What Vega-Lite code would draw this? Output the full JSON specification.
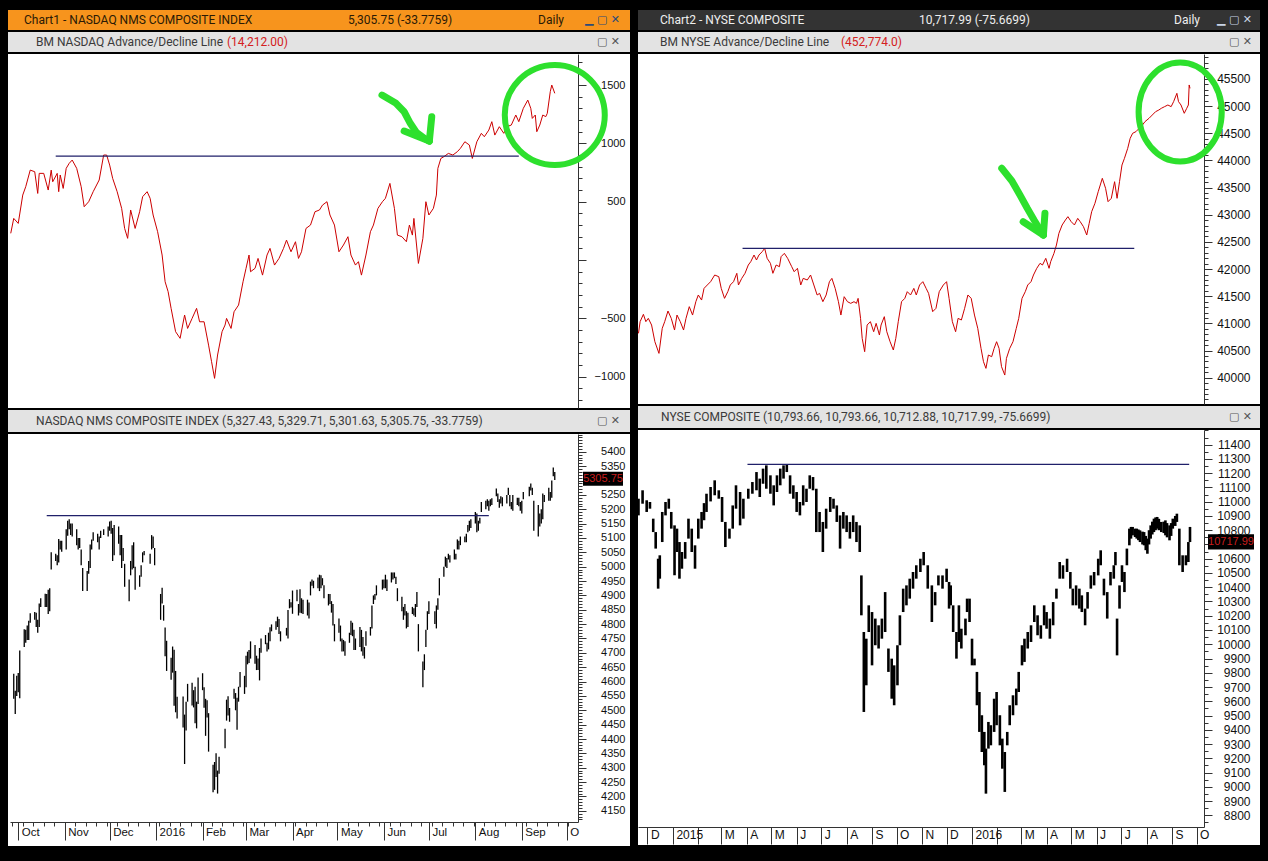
{
"$schema":"https://vega.github.io/schema/vega-lite/v6.json",
"background":"#000000",
"padding":{"left":8,"top":10,"right":10,"bottom":15},
"spacing":6,
"config":{"view":{"stroke":null},"axis":{"labelFont":"Liberation Sans","labelColor":"#111111","tickColor":"#333333","domainColor":"#333333","grid":false}},
"datasets":{
"ndxAD":[
{"d":"2015-09-26","v":229},{"d":"2015-09-28","v":357},{"d":"2015-10-01","v":314},{"d":"2015-10-04","v":557},{"d":"2015-10-06","v":629},{"d":"2015-10-09","v":771},{"d":"2015-10-12","v":757},{"d":"2015-10-14","v":571},{"d":"2015-10-15","v":743},{"d":"2015-10-18","v":743},{"d":"2015-10-21","v":600},{"d":"2015-10-23","v":771},{"d":"2015-10-24","v":671},{"d":"2015-10-27","v":743},{"d":"2015-10-28","v":586},{"d":"2015-10-29","v":729},{"d":"2015-10-31","v":614},{"d":"2015-11-02","v":786},{"d":"2015-11-04","v":829},{"d":"2015-11-06","v":857},{"d":"2015-11-09","v":786},{"d":"2015-11-12","v":629},{"d":"2015-11-14","v":457},{"d":"2015-11-17","v":500},{"d":"2015-11-20","v":586},{"d":"2015-11-24","v":686},{"d":"2015-11-27","v":900},{"d":"2015-11-29","v":900},{"d":"2015-12-01","v":814},{"d":"2015-12-03","v":700},{"d":"2015-12-06","v":586},{"d":"2015-12-09","v":443},{"d":"2015-12-11","v":271},{"d":"2015-12-13","v":186},{"d":"2015-12-15","v":429},{"d":"2015-12-18","v":271},{"d":"2015-12-21","v":414},{"d":"2015-12-23","v":543},{"d":"2015-12-26","v":586},{"d":"2015-12-28","v":529},{"d":"2015-12-30","v":386},{"d":"2016-01-02","v":243},{"d":"2016-01-05","v":43},{"d":"2016-01-07","v":-186},{"d":"2016-01-09","v":-271},{"d":"2016-01-11","v":-414},{"d":"2016-01-14","v":-614},{"d":"2016-01-17","v":-671},{"d":"2016-01-20","v":-471},{"d":"2016-01-22","v":-586},{"d":"2016-01-25","v":-500},{"d":"2016-01-28","v":-414},{"d":"2016-01-30","v":-529},{"d":"2016-02-02","v":-529},{"d":"2016-02-05","v":-729},{"d":"2016-02-07","v":-871},{"d":"2016-02-09","v":-1014},{"d":"2016-02-11","v":-814},{"d":"2016-02-14","v":-614},{"d":"2016-02-16","v":-557},{"d":"2016-02-17","v":-500},{"d":"2016-02-20","v":-586},{"d":"2016-02-22","v":-443},{"d":"2016-02-25","v":-386},{"d":"2016-02-28","v":-186},{"d":"2016-03-01","v":-71},{"d":"2016-03-03","v":43},{"d":"2016-03-04","v":-100},{"d":"2016-03-07","v":-71},{"d":"2016-03-09","v":14},{"d":"2016-03-12","v":-129},{"d":"2016-03-15","v":43},{"d":"2016-03-17","v":100},{"d":"2016-03-20","v":-43},{"d":"2016-03-23","v":14},{"d":"2016-03-26","v":100},{"d":"2016-03-28","v":171},{"d":"2016-03-31","v":71},{"d":"2016-04-03","v":157},{"d":"2016-04-05","v":14},{"d":"2016-04-07","v":71},{"d":"2016-04-10","v":271},{"d":"2016-04-13","v":300},{"d":"2016-04-16","v":414},{"d":"2016-04-19","v":429},{"d":"2016-04-21","v":471},{"d":"2016-04-24","v":500},{"d":"2016-04-26","v":386},{"d":"2016-04-29","v":300},{"d":"2016-05-02","v":71},{"d":"2016-05-05","v":129},{"d":"2016-05-08","v":200},{"d":"2016-05-10","v":43},{"d":"2016-05-13","v":-43},{"d":"2016-05-15","v":-14},{"d":"2016-05-17","v":-129},{"d":"2016-05-20","v":43},{"d":"2016-05-23","v":243},{"d":"2016-05-25","v":300},{"d":"2016-05-28","v":443},{"d":"2016-05-31","v":500},{"d":"2016-06-02","v":529},{"d":"2016-06-05","v":657},{"d":"2016-06-08","v":443},{"d":"2016-06-10","v":214},{"d":"2016-06-13","v":200},{"d":"2016-06-16","v":157},{"d":"2016-06-18","v":300},{"d":"2016-06-20","v":214},{"d":"2016-06-21","v":357},{"d":"2016-06-24","v":-29},{"d":"2016-06-27","v":186},{"d":"2016-06-29","v":500},{"d":"2016-07-01","v":386},{"d":"2016-07-04","v":443},{"d":"2016-07-06","v":557},{"d":"2016-07-07","v":786},{"d":"2016-07-09","v":871},{"d":"2016-07-11","v":886},{"d":"2016-07-14","v":914},{"d":"2016-07-17","v":900},{"d":"2016-07-20","v":929},{"d":"2016-07-22","v":957},{"d":"2016-07-25","v":1014},{"d":"2016-07-28","v":986},{"d":"2016-07-30","v":871},{"d":"2016-08-02","v":1014},{"d":"2016-08-05","v":1086},{"d":"2016-08-07","v":1057},{"d":"2016-08-10","v":1114},{"d":"2016-08-12","v":1186},{"d":"2016-08-14","v":1071},{"d":"2016-08-17","v":1143},{"d":"2016-08-20","v":1086},{"d":"2016-08-22","v":1143},{"d":"2016-08-25","v":1157},{"d":"2016-08-28","v":1243},{"d":"2016-08-30","v":1186},{"d":"2016-09-02","v":1300},{"d":"2016-09-05","v":1371},{"d":"2016-09-07","v":1300},{"d":"2016-09-08","v":1214},{"d":"2016-09-10","v":1243},{"d":"2016-09-11","v":1100},{"d":"2016-09-13","v":1157},{"d":"2016-09-15","v":1243},{"d":"2016-09-17","v":1229},{"d":"2016-09-18","v":1257},{"d":"2016-09-20","v":1443},{"d":"2016-09-21","v":1500},{"d":"2016-09-23","v":1429}
],
"ndxBars":[
{"d":"2015-09-28","v":4627,"v2":4540},{"d":"2015-09-29","v":4568,"v2":4487},{"d":"2015-09-30","v":4620,"v2":4550},{"d":"2015-10-01","v":4630,"v2":4563},{"d":"2015-10-02","v":4708,"v2":4542},{"d":"2015-10-05","v":4782,"v2":4720},{"d":"2015-10-06","v":4780,"v2":4735},{"d":"2015-10-07","v":4795,"v2":4745},{"d":"2015-10-08","v":4812,"v2":4745},{"d":"2015-10-09","v":4838,"v2":4805},{"d":"2015-10-12","v":4842,"v2":4815},{"d":"2015-10-13","v":4840,"v2":4790},{"d":"2015-10-14","v":4815,"v2":4770},{"d":"2015-10-15","v":4872,"v2":4790},{"d":"2015-10-16","v":4890,"v2":4860},{"d":"2015-10-19","v":4906,"v2":4860},{"d":"2015-10-20","v":4905,"v2":4860},{"d":"2015-10-21","v":4920,"v2":4835},{"d":"2015-10-22","v":4925,"v2":4845},{"d":"2015-10-23","v":5050,"v2":4990},{"d":"2015-10-26","v":5045,"v2":5020},{"d":"2015-10-27","v":5040,"v2":5005},{"d":"2015-10-28","v":5096,"v2":5015},{"d":"2015-10-29","v":5090,"v2":5060},{"d":"2015-10-30","v":5090,"v2":5052},
{"d":"2015-11-02","v":5130,"v2":5060},{"d":"2015-11-03","v":5160,"v2":5108},{"d":"2015-11-04","v":5165,"v2":5130},{"d":"2015-11-05","v":5150,"v2":5110},{"d":"2015-11-06","v":5150,"v2":5105},{"d":"2015-11-09","v":5130,"v2":5075},{"d":"2015-11-10","v":5100,"v2":5060},{"d":"2015-11-11","v":5100,"v2":5065},{"d":"2015-11-12","v":5060,"v2":5005},{"d":"2015-11-13","v":4995,"v2":4915},{"d":"2015-11-16","v":4985,"v2":4915},{"d":"2015-11-17","v":5020,"v2":4975},{"d":"2015-11-18","v":5077,"v2":4995},{"d":"2015-11-19","v":5095,"v2":5060},{"d":"2015-11-20","v":5120,"v2":5090},{"d":"2015-11-23","v":5115,"v2":5085},{"d":"2015-11-24","v":5105,"v2":5060},{"d":"2015-11-25","v":5125,"v2":5100},{"d":"2015-11-27","v":5130,"v2":5110},{"d":"2015-11-30","v":5140,"v2":5105},
{"d":"2015-12-01","v":5157,"v2":5125},{"d":"2015-12-02","v":5160,"v2":5115},{"d":"2015-12-03","v":5135,"v2":5020},{"d":"2015-12-04","v":5145,"v2":5040},{"d":"2015-12-07","v":5140,"v2":5080},{"d":"2015-12-08","v":5110,"v2":5040},{"d":"2015-12-09","v":5110,"v2":4995},{"d":"2015-12-10","v":5065,"v2":5020},{"d":"2015-12-11","v":5010,"v2":4930},{"d":"2015-12-14","v":4955,"v2":4880},{"d":"2015-12-15","v":5020,"v2":4970},{"d":"2015-12-16","v":5075,"v2":4990},{"d":"2015-12-17","v":5085,"v2":4995},{"d":"2015-12-18","v":5000,"v2":4920},{"d":"2015-12-21","v":4970,"v2":4930},{"d":"2015-12-22","v":5005,"v2":4965},{"d":"2015-12-23","v":5050,"v2":5015},{"d":"2015-12-24","v":5055,"v2":5040},{"d":"2015-12-28","v":5045,"v2":5010},{"d":"2015-12-29","v":5110,"v2":5060},{"d":"2015-12-30","v":5105,"v2":5065},{"d":"2015-12-31","v":5065,"v2":5005},
{"d":"2016-01-04","v":4905,"v2":4815},{"d":"2016-01-05","v":4927,"v2":4872},{"d":"2016-01-06","v":4866,"v2":4812},{"d":"2016-01-07","v":4788,"v2":4688},{"d":"2016-01-08","v":4742,"v2":4637},{"d":"2016-01-11","v":4683,"v2":4606},{"d":"2016-01-12","v":4722,"v2":4631},{"d":"2016-01-13","v":4711,"v2":4516},{"d":"2016-01-14","v":4637,"v2":4493},{"d":"2016-01-15","v":4547,"v2":4471},{"d":"2016-01-19","v":4548,"v2":4440},{"d":"2016-01-20","v":4485,"v2":4313},{"d":"2016-01-21","v":4530,"v2":4430},{"d":"2016-01-22","v":4592,"v2":4530},{"d":"2016-01-25","v":4596,"v2":4517},{"d":"2016-01-26","v":4570,"v2":4510},{"d":"2016-01-27","v":4582,"v2":4455},{"d":"2016-01-28","v":4530,"v2":4437},{"d":"2016-01-29","v":4614,"v2":4522},
{"d":"2016-02-01","v":4629,"v2":4570},{"d":"2016-02-02","v":4580,"v2":4509},{"d":"2016-02-03","v":4540,"v2":4411},{"d":"2016-02-04","v":4535,"v2":4475},{"d":"2016-02-05","v":4490,"v2":4356},{"d":"2016-02-08","v":4310,"v2":4215},{"d":"2016-02-09","v":4320,"v2":4223},{"d":"2016-02-10","v":4350,"v2":4268},{"d":"2016-02-11","v":4290,"v2":4210},{"d":"2016-02-12","v":4338,"v2":4279},{"d":"2016-02-16","v":4436,"v2":4368},{"d":"2016-02-17","v":4537,"v2":4464},{"d":"2016-02-18","v":4549,"v2":4482},{"d":"2016-02-19","v":4508,"v2":4460},{"d":"2016-02-22","v":4575,"v2":4540},{"d":"2016-02-23","v":4560,"v2":4500},{"d":"2016-02-24","v":4544,"v2":4432},{"d":"2016-02-25","v":4582,"v2":4530},{"d":"2016-02-26","v":4633,"v2":4580},{"d":"2016-02-29","v":4620,"v2":4557},
{"d":"2016-03-01","v":4690,"v2":4580},{"d":"2016-03-02","v":4704,"v2":4660},{"d":"2016-03-03","v":4710,"v2":4665},{"d":"2016-03-04","v":4740,"v2":4680},{"d":"2016-03-07","v":4727,"v2":4662},{"d":"2016-03-08","v":4690,"v2":4640},{"d":"2016-03-09","v":4680,"v2":4640},{"d":"2016-03-10","v":4717,"v2":4604},{"d":"2016-03-11","v":4750,"v2":4700},{"d":"2016-03-14","v":4762,"v2":4730},{"d":"2016-03-15","v":4735,"v2":4705},{"d":"2016-03-16","v":4770,"v2":4712},{"d":"2016-03-17","v":4789,"v2":4740},{"d":"2016-03-18","v":4799,"v2":4775},{"d":"2016-03-21","v":4810,"v2":4780},{"d":"2016-03-22","v":4826,"v2":4790},{"d":"2016-03-23","v":4818,"v2":4766},{"d":"2016-03-24","v":4775,"v2":4740},{"d":"2016-03-28","v":4787,"v2":4760},{"d":"2016-03-29","v":4849,"v2":4750},{"d":"2016-03-30","v":4887,"v2":4855},{"d":"2016-03-31","v":4876,"v2":4858},
{"d":"2016-04-01","v":4917,"v2":4836},{"d":"2016-04-04","v":4920,"v2":4880},{"d":"2016-04-05","v":4870,"v2":4830},{"d":"2016-04-06","v":4921,"v2":4840},{"d":"2016-04-07","v":4890,"v2":4838},{"d":"2016-04-08","v":4885,"v2":4835},{"d":"2016-04-11","v":4885,"v2":4830},{"d":"2016-04-12","v":4875,"v2":4820},{"d":"2016-04-13","v":4948,"v2":4900},{"d":"2016-04-14","v":4955,"v2":4934},{"d":"2016-04-15","v":4951,"v2":4925},{"d":"2016-04-18","v":4962,"v2":4925},{"d":"2016-04-19","v":4972,"v2":4915},{"d":"2016-04-20","v":4970,"v2":4925},{"d":"2016-04-21","v":4960,"v2":4935},{"d":"2016-04-22","v":4935,"v2":4890},{"d":"2016-04-25","v":4905,"v2":4865},{"d":"2016-04-26","v":4905,"v2":4870},{"d":"2016-04-27","v":4880,"v2":4840},{"d":"2016-04-28","v":4870,"v2":4795},{"d":"2016-04-29","v":4800,"v2":4740},
{"d":"2016-05-02","v":4820,"v2":4770},{"d":"2016-05-03","v":4795,"v2":4740},{"d":"2016-05-04","v":4750,"v2":4705},{"d":"2016-05-05","v":4745,"v2":4705},{"d":"2016-05-06","v":4740,"v2":4690},{"d":"2016-05-09","v":4770,"v2":4735},{"d":"2016-05-10","v":4812,"v2":4762},{"d":"2016-05-11","v":4805,"v2":4758},{"d":"2016-05-12","v":4780,"v2":4710},{"d":"2016-05-13","v":4750,"v2":4710},{"d":"2016-05-16","v":4790,"v2":4720},{"d":"2016-05-17","v":4780,"v2":4705},{"d":"2016-05-18","v":4755,"v2":4690},{"d":"2016-05-19","v":4720,"v2":4680},{"d":"2016-05-20","v":4775,"v2":4725},{"d":"2016-05-23","v":4790,"v2":4760},{"d":"2016-05-24","v":4865,"v2":4785},{"d":"2016-05-25","v":4900,"v2":4870},{"d":"2016-05-26","v":4905,"v2":4885},{"d":"2016-05-27","v":4935,"v2":4900},{"d":"2016-05-31","v":4955,"v2":4920},
{"d":"2016-06-01","v":4955,"v2":4925},{"d":"2016-06-02","v":4972,"v2":4925},{"d":"2016-06-03","v":4955,"v2":4915},{"d":"2016-06-06","v":4980,"v2":4945},{"d":"2016-06-07","v":4980,"v2":4955},{"d":"2016-06-08","v":4980,"v2":4960},{"d":"2016-06-09","v":4965,"v2":4940},{"d":"2016-06-10","v":4925,"v2":4880},{"d":"2016-06-13","v":4895,"v2":4845},{"d":"2016-06-14","v":4860,"v2":4815},{"d":"2016-06-15","v":4870,"v2":4830},{"d":"2016-06-16","v":4845,"v2":4785},{"d":"2016-06-17","v":4840,"v2":4790},{"d":"2016-06-20","v":4860,"v2":4835},{"d":"2016-06-21","v":4855,"v2":4830},{"d":"2016-06-22","v":4870,"v2":4825},{"d":"2016-06-23","v":4912,"v2":4860},{"d":"2016-06-24","v":4800,"v2":4705},{"d":"2016-06-27","v":4670,"v2":4580},{"d":"2016-06-28","v":4695,"v2":4640},{"d":"2016-06-29","v":4780,"v2":4720},{"d":"2016-06-30","v":4845,"v2":4780},
{"d":"2016-07-01","v":4880,"v2":4835},{"d":"2016-07-05","v":4845,"v2":4800},{"d":"2016-07-06","v":4865,"v2":4785},{"d":"2016-07-07","v":4890,"v2":4850},{"d":"2016-07-08","v":4960,"v2":4900},{"d":"2016-07-11","v":5000,"v2":4965},{"d":"2016-07-12","v":5035,"v2":5000},{"d":"2016-07-13","v":5030,"v2":4995},{"d":"2016-07-14","v":5045,"v2":5025},{"d":"2016-07-15","v":5040,"v2":5015},{"d":"2016-07-18","v":5060,"v2":5025},{"d":"2016-07-19","v":5045,"v2":5025},{"d":"2016-07-20","v":5095,"v2":5060},{"d":"2016-07-21","v":5090,"v2":5060},{"d":"2016-07-22","v":5105,"v2":5075},{"d":"2016-07-25","v":5105,"v2":5085},{"d":"2016-07-26","v":5115,"v2":5085},{"d":"2016-07-27","v":5145,"v2":5120},{"d":"2016-07-28","v":5160,"v2":5125},{"d":"2016-07-29","v":5165,"v2":5135},
{"d":"2016-08-01","v":5190,"v2":5150},{"d":"2016-08-02","v":5185,"v2":5120},{"d":"2016-08-03","v":5160,"v2":5125},{"d":"2016-08-04","v":5170,"v2":5150},{"d":"2016-08-05","v":5225,"v2":5190},{"d":"2016-08-08","v":5230,"v2":5200},{"d":"2016-08-09","v":5235,"v2":5210},{"d":"2016-08-10","v":5230,"v2":5195},{"d":"2016-08-11","v":5235,"v2":5210},{"d":"2016-08-12","v":5238,"v2":5215},{"d":"2016-08-15","v":5272,"v2":5245},{"d":"2016-08-16","v":5255,"v2":5225},{"d":"2016-08-17","v":5235,"v2":5205},{"d":"2016-08-18","v":5245,"v2":5220},{"d":"2016-08-19","v":5242,"v2":5210},{"d":"2016-08-22","v":5250,"v2":5220},{"d":"2016-08-23","v":5275,"v2":5250},{"d":"2016-08-24","v":5250,"v2":5210},{"d":"2016-08-25","v":5225,"v2":5200},{"d":"2016-08-26","v":5250,"v2":5195},{"d":"2016-08-29","v":5240,"v2":5215},{"d":"2016-08-30","v":5240,"v2":5210},{"d":"2016-08-31","v":5225,"v2":5195},
{"d":"2016-09-01","v":5230,"v2":5185},{"d":"2016-09-02","v":5260,"v2":5235},{"d":"2016-09-06","v":5278,"v2":5245},{"d":"2016-09-07","v":5290,"v2":5265},{"d":"2016-09-08","v":5275,"v2":5250},{"d":"2016-09-09","v":5230,"v2":5125},{"d":"2016-09-12","v":5215,"v2":5105},{"d":"2016-09-13","v":5185,"v2":5140},{"d":"2016-09-14","v":5200,"v2":5150},{"d":"2016-09-15","v":5255,"v2":5165},{"d":"2016-09-16","v":5250,"v2":5225},{"d":"2016-09-19","v":5275,"v2":5230},{"d":"2016-09-20","v":5260,"v2":5230},{"d":"2016-09-21","v":5300,"v2":5240},{"d":"2016-09-22","v":5345,"v2":5315},{"d":"2016-09-23","v":5330,"v2":5302}
],
"nyaAD":[
{"d":"2014-11-20","v":40817},{"d":"2014-11-22","v":41032},{"d":"2014-11-26","v":41167},{"d":"2014-11-29","v":41032},{"d":"2014-12-02","v":41093},{"d":"2014-12-06","v":40970},{"d":"2014-12-10","v":40663},{"d":"2014-12-15","v":40448},{"d":"2014-12-19","v":40909},{"d":"2014-12-22","v":41032},{"d":"2014-12-26","v":41228},{"d":"2014-12-30","v":41093},{"d":"2015-01-03","v":40878},{"d":"2015-01-06","v":41154},{"d":"2015-01-10","v":41032},{"d":"2015-01-14","v":40878},{"d":"2015-01-17","v":41093},{"d":"2015-01-21","v":41308},{"d":"2015-01-25","v":41154},{"d":"2015-01-29","v":41400},{"d":"2015-02-01","v":41523},{"d":"2015-02-05","v":41430},{"d":"2015-02-08","v":41645},{"d":"2015-02-12","v":41707},{"d":"2015-02-16","v":41768},{"d":"2015-02-21","v":41891},{"d":"2015-02-26","v":41860},{"d":"2015-03-01","v":41645},{"d":"2015-03-05","v":41461},{"d":"2015-03-09","v":41584},{"d":"2015-03-12","v":41707},{"d":"2015-03-16","v":41768},{"d":"2015-03-20","v":41922},{"d":"2015-03-22","v":41707},{"d":"2015-03-26","v":41829},{"d":"2015-03-30","v":41922},{"d":"2015-04-03","v":42075},{"d":"2015-04-06","v":42136},{"d":"2015-04-10","v":42259},{"d":"2015-04-13","v":42167},{"d":"2015-04-16","v":42259},{"d":"2015-04-20","v":42321},{"d":"2015-04-23","v":42382},{"d":"2015-04-26","v":42198},{"d":"2015-04-30","v":42106},{"d":"2015-05-03","v":41922},{"d":"2015-05-07","v":42075},{"d":"2015-05-11","v":42044},{"d":"2015-05-13","v":42228},{"d":"2015-05-17","v":42290},{"d":"2015-05-21","v":42198},{"d":"2015-05-26","v":42044},{"d":"2015-05-29","v":41952},{"d":"2015-06-02","v":42014},{"d":"2015-06-06","v":41707},{"d":"2015-06-09","v":41829},{"d":"2015-06-14","v":41799},{"d":"2015-06-18","v":41891},{"d":"2015-06-22","v":41707},{"d":"2015-06-26","v":41523},{"d":"2015-06-29","v":41553},{"d":"2015-07-03","v":41400},{"d":"2015-07-07","v":41523},{"d":"2015-07-11","v":41768},{"d":"2015-07-14","v":41829},{"d":"2015-07-18","v":41645},{"d":"2015-07-22","v":41400},{"d":"2015-07-25","v":41154},{"d":"2015-07-29","v":41492},{"d":"2015-08-02","v":41400},{"d":"2015-08-06","v":41369},{"d":"2015-08-10","v":41400},{"d":"2015-08-13","v":41369},{"d":"2015-08-15","v":41461},{"d":"2015-08-18","v":41093},{"d":"2015-08-20","v":40725},{"d":"2015-08-23","v":40479},{"d":"2015-08-26","v":40970},{"d":"2015-08-30","v":41032},{"d":"2015-09-03","v":40847},{"d":"2015-09-06","v":41001},{"d":"2015-09-10","v":40786},{"d":"2015-09-12","v":40970},{"d":"2015-09-16","v":41124},{"d":"2015-09-19","v":40847},{"d":"2015-09-23","v":40663},{"d":"2015-09-27","v":40510},{"d":"2015-09-30","v":40725},{"d":"2015-10-03","v":41032},{"d":"2015-10-07","v":41400},{"d":"2015-10-11","v":41461},{"d":"2015-10-14","v":41584},{"d":"2015-10-18","v":41523},{"d":"2015-10-22","v":41645},{"d":"2015-10-25","v":41523},{"d":"2015-10-29","v":41707},{"d":"2015-11-02","v":41768},{"d":"2015-11-06","v":41645},{"d":"2015-11-09","v":41553},{"d":"2015-11-14","v":41216},{"d":"2015-11-18","v":41277},{"d":"2015-11-22","v":41584},{"d":"2015-11-27","v":41707},{"d":"2015-12-01","v":41768},{"d":"2015-12-04","v":41461},{"d":"2015-12-08","v":41032},{"d":"2015-12-12","v":40847},{"d":"2015-12-15","v":41093},{"d":"2015-12-19","v":41062},{"d":"2015-12-23","v":41277},{"d":"2015-12-27","v":41523},{"d":"2015-12-31","v":41461},{"d":"2016-01-04","v":41154},{"d":"2016-01-08","v":40909},{"d":"2016-01-12","v":40540},{"d":"2016-01-15","v":40295},{"d":"2016-01-18","v":40172},{"d":"2016-01-21","v":40418},{"d":"2016-01-25","v":40387},{"d":"2016-01-28","v":40540},{"d":"2016-01-31","v":40663},{"d":"2016-02-03","v":40540},{"d":"2016-02-06","v":40203},{"d":"2016-02-10","v":40049},{"d":"2016-02-12","v":40356},{"d":"2016-02-16","v":40540},{"d":"2016-02-20","v":40663},{"d":"2016-02-24","v":40909},{"d":"2016-02-27","v":41093},{"d":"2016-03-02","v":41461},{"d":"2016-03-06","v":41584},{"d":"2016-03-09","v":41707},{"d":"2016-03-13","v":41768},{"d":"2016-03-16","v":41891},{"d":"2016-03-20","v":42014},{"d":"2016-03-24","v":42106},{"d":"2016-03-27","v":42075},{"d":"2016-03-31","v":42198},{"d":"2016-04-04","v":42014},{"d":"2016-04-06","v":42136},{"d":"2016-04-10","v":42290},{"d":"2016-04-13","v":42443},{"d":"2016-04-16","v":42658},{"d":"2016-04-20","v":42812},{"d":"2016-04-24","v":42904},{"d":"2016-04-27","v":42965},{"d":"2016-05-01","v":42873},{"d":"2016-05-05","v":42812},{"d":"2016-05-09","v":42934},{"d":"2016-05-12","v":42873},{"d":"2016-05-16","v":42781},{"d":"2016-05-20","v":42627},{"d":"2016-05-23","v":42842},{"d":"2016-05-26","v":43057},{"d":"2016-05-30","v":43211},{"d":"2016-06-03","v":43425},{"d":"2016-06-08","v":43671},{"d":"2016-06-12","v":43487},{"d":"2016-06-15","v":43241},{"d":"2016-06-19","v":43303},{"d":"2016-06-23","v":43609},{"d":"2016-06-26","v":43303},{"d":"2016-06-29","v":43609},{"d":"2016-07-02","v":43916},{"d":"2016-07-05","v":44039},{"d":"2016-07-09","v":44223},{"d":"2016-07-12","v":44407},{"d":"2016-07-15","v":44500},{"d":"2016-07-19","v":44530},{"d":"2016-07-23","v":44592},{"d":"2016-07-27","v":44653},{"d":"2016-07-30","v":44714},{"d":"2016-08-04","v":44776},{"d":"2016-08-08","v":44837},{"d":"2016-08-12","v":44898},{"d":"2016-08-16","v":44929},{"d":"2016-08-19","v":44960},{"d":"2016-08-23","v":44991},{"d":"2016-08-27","v":45021},{"d":"2016-08-31","v":44991},{"d":"2016-09-03","v":45083},{"d":"2016-09-07","v":45236},{"d":"2016-09-09","v":45083},{"d":"2016-09-12","v":45021},{"d":"2016-09-16","v":44868},{"d":"2016-09-19","v":44960},{"d":"2016-09-21","v":45021},{"d":"2016-09-22","v":45390},{"d":"2016-09-23","v":45328}
],
"nyaBars":[
{"d":"2014-11-20","v":11021,"v2":10904},{"d":"2014-11-25","v":11080,"v2":10986},{"d":"2014-11-30","v":11010,"v2":10928},{"d":"2014-12-04","v":10998,"v2":10951},{"d":"2014-12-08","v":10881,"v2":10787},{"d":"2014-12-11","v":10787,"v2":10671},{"d":"2014-12-14","v":10600,"v2":10390},{"d":"2014-12-16","v":10624,"v2":10460},{"d":"2014-12-19","v":10928,"v2":10717},{"d":"2014-12-23","v":10998,"v2":10904},{"d":"2014-12-27","v":11021,"v2":10951},{"d":"2014-12-30","v":10928,"v2":10811},{"d":"2015-01-03","v":10834,"v2":10484},{"d":"2015-01-06","v":10811,"v2":10647},{"d":"2015-01-09","v":10717,"v2":10460},{"d":"2015-01-12","v":10647,"v2":10530},{"d":"2015-01-16","v":10717,"v2":10600},{"d":"2015-01-20","v":10881,"v2":10741},{"d":"2015-01-24","v":10811,"v2":10647},{"d":"2015-01-28","v":10694,"v2":10530},{"d":"2015-02-01","v":10881,"v2":10741},{"d":"2015-02-05","v":10928,"v2":10811},{"d":"2015-02-08","v":10990,"v2":10870},{"d":"2015-02-11","v":11056,"v2":10928},{"d":"2015-02-16","v":11103,"v2":11002},{"d":"2015-02-21","v":11150,"v2":11045},{"d":"2015-02-26","v":11080,"v2":11021},{"d":"2015-03-02","v":11033,"v2":10858},{"d":"2015-03-06","v":10858,"v2":10682},{"d":"2015-03-11","v":10811,"v2":10741},{"d":"2015-03-15","v":10974,"v2":10811},{"d":"2015-03-19","v":11115,"v2":10951},{"d":"2015-03-24","v":11068,"v2":10834},{"d":"2015-03-28","v":11021,"v2":10881},{"d":"2015-04-03","v":11091,"v2":11021},{"d":"2015-04-08","v":11138,"v2":11056},{"d":"2015-04-13","v":11208,"v2":11080},{"d":"2015-04-17","v":11162,"v2":11033},{"d":"2015-04-21","v":11232,"v2":11126},{"d":"2015-04-25","v":11255,"v2":11091},{"d":"2015-04-30","v":11185,"v2":11056},{"d":"2015-05-04","v":11115,"v2":10974},{"d":"2015-05-08","v":11185,"v2":11068},{"d":"2015-05-12","v":11232,"v2":11115},{"d":"2015-05-16","v":11255,"v2":11162},{"d":"2015-05-20","v":11260,"v2":11208},{"d":"2015-05-24","v":11185,"v2":11056},{"d":"2015-05-28","v":11115,"v2":11021},{"d":"2015-06-01","v":11068,"v2":10928},{"d":"2015-06-05","v":10998,"v2":10904},{"d":"2015-06-09","v":11115,"v2":10974},{"d":"2015-06-13","v":11091,"v2":10998},{"d":"2015-06-17","v":11185,"v2":11091},{"d":"2015-06-21","v":11173,"v2":11080},{"d":"2015-06-25","v":11091,"v2":10787},{"d":"2015-06-29","v":10928,"v2":10787},{"d":"2015-07-03","v":10858,"v2":10647},{"d":"2015-07-07","v":10951,"v2":10811},{"d":"2015-07-12","v":11033,"v2":10928},{"d":"2015-07-16","v":11021,"v2":10951},{"d":"2015-07-20","v":10974,"v2":10858},{"d":"2015-07-24","v":10904,"v2":10671},{"d":"2015-07-28","v":10928,"v2":10811},{"d":"2015-08-01","v":10904,"v2":10787},{"d":"2015-08-05","v":10858,"v2":10741},{"d":"2015-08-09","v":10904,"v2":10787},{"d":"2015-08-13","v":10858,"v2":10717},{"d":"2015-08-17","v":10834,"v2":10647},{"d":"2015-08-19","v":10483,"v2":10203},{"d":"2015-08-22","v":10086,"v2":9525},{"d":"2015-08-25","v":10039,"v2":9712},{"d":"2015-08-28","v":10273,"v2":10086},{"d":"2015-09-01","v":10226,"v2":9852},{"d":"2015-09-05","v":10180,"v2":9993},{"d":"2015-09-09","v":10133,"v2":9970},{"d":"2015-09-13","v":10180,"v2":10039},{"d":"2015-09-17","v":10366,"v2":10086},{"d":"2015-09-21","v":9970,"v2":9806},{"d":"2015-09-25","v":9899,"v2":9618},{"d":"2015-09-28","v":9852,"v2":9572},{"d":"2015-10-02","v":9993,"v2":9712},{"d":"2015-10-05","v":10203,"v2":9993},{"d":"2015-10-09","v":10390,"v2":10226},{"d":"2015-10-13","v":10413,"v2":10273},{"d":"2015-10-17","v":10460,"v2":10320},{"d":"2015-10-21","v":10507,"v2":10390},{"d":"2015-10-25","v":10554,"v2":10460},{"d":"2015-10-30","v":10600,"v2":10507},{"d":"2015-11-03","v":10647,"v2":10554},{"d":"2015-11-08","v":10554,"v2":10390},{"d":"2015-11-13","v":10413,"v2":10156},{"d":"2015-11-17","v":10366,"v2":10273},{"d":"2015-11-21","v":10483,"v2":10413},{"d":"2015-11-26","v":10483,"v2":10390},{"d":"2015-12-01","v":10530,"v2":10437},{"d":"2015-12-04","v":10437,"v2":10250},{"d":"2015-12-06","v":10413,"v2":10273},{"d":"2015-12-09","v":10273,"v2":10086},{"d":"2015-12-13","v":10086,"v2":9899},{"d":"2015-12-16","v":10273,"v2":10016},{"d":"2015-12-19","v":10109,"v2":9970},{"d":"2015-12-24","v":10180,"v2":10063},{"d":"2015-12-26","v":10320,"v2":10226},{"d":"2015-12-29","v":10320,"v2":10156},{"d":"2016-01-01","v":10039,"v2":9852},{"d":"2016-01-04","v":9899,"v2":9852},{"d":"2016-01-07","v":9806,"v2":9572},{"d":"2016-01-10","v":9665,"v2":9385},{"d":"2016-01-13","v":9502,"v2":9244},{"d":"2016-01-16","v":9385,"v2":9151},{"d":"2016-01-18","v":9268,"v2":8952},{"d":"2016-01-21","v":9455,"v2":9268},{"d":"2016-01-24","v":9432,"v2":9291},{"d":"2016-01-28","v":9618,"v2":9385},{"d":"2016-01-31","v":9665,"v2":9432},{"d":"2016-02-04","v":9502,"v2":9291},{"d":"2016-02-07","v":9338,"v2":9127},{"d":"2016-02-10","v":9244,"v2":8964},{"d":"2016-02-13","v":9385,"v2":9291},{"d":"2016-02-16","v":9572,"v2":9432},{"d":"2016-02-20","v":9642,"v2":9502},{"d":"2016-02-24","v":9689,"v2":9572},{"d":"2016-02-27","v":9806,"v2":9665},{"d":"2016-03-02","v":9993,"v2":9852},{"d":"2016-03-05","v":10039,"v2":9876},{"d":"2016-03-09","v":10086,"v2":9970},{"d":"2016-03-13","v":10133,"v2":10016},{"d":"2016-03-17","v":10273,"v2":10156},{"d":"2016-03-21","v":10203,"v2":10063},{"d":"2016-03-25","v":10133,"v2":10039},{"d":"2016-03-29","v":10273,"v2":10133},{"d":"2016-04-01","v":10226,"v2":10109},{"d":"2016-04-05","v":10180,"v2":10039},{"d":"2016-04-09","v":10296,"v2":10133},{"d":"2016-04-13","v":10390,"v2":10320},{"d":"2016-04-17","v":10577,"v2":10460},{"d":"2016-04-21","v":10554,"v2":10460},{"d":"2016-04-26","v":10600,"v2":10507},{"d":"2016-04-30","v":10507,"v2":10390},{"d":"2016-05-03","v":10390,"v2":10273},{"d":"2016-05-07","v":10413,"v2":10273},{"d":"2016-05-11","v":10390,"v2":10250},{"d":"2016-05-14","v":10343,"v2":10226},{"d":"2016-05-18","v":10250,"v2":10133},{"d":"2016-05-21","v":10366,"v2":10250},{"d":"2016-05-25","v":10483,"v2":10390},{"d":"2016-05-29","v":10507,"v2":10413},{"d":"2016-06-03","v":10600,"v2":10483},{"d":"2016-06-06","v":10659,"v2":10554},{"d":"2016-06-10","v":10460,"v2":10343},{"d":"2016-06-14","v":10366,"v2":10180},{"d":"2016-06-18","v":10507,"v2":10413},{"d":"2016-06-22","v":10554,"v2":10460},{"d":"2016-06-24","v":10647,"v2":10554},{"d":"2016-06-26","v":10180,"v2":9922},{"d":"2016-06-29","v":10413,"v2":10250},{"d":"2016-07-02","v":10554,"v2":10437},{"d":"2016-07-05","v":10507,"v2":10366},{"d":"2016-07-08","v":10671,"v2":10554},{"d":"2016-07-11","v":10811,"v2":10694},{"d":"2016-07-13","v":10823,"v2":10741},{"d":"2016-07-15","v":10823,"v2":10764},{"d":"2016-07-18","v":10811,"v2":10752},{"d":"2016-07-20","v":10811,"v2":10741},{"d":"2016-07-22","v":10805,"v2":10730},{"d":"2016-07-24","v":10799,"v2":10717},{"d":"2016-07-27","v":10790,"v2":10700},{"d":"2016-07-29","v":10787,"v2":10694},{"d":"2016-07-31","v":10760,"v2":10660},{"d":"2016-08-02","v":10741,"v2":10635},{"d":"2016-08-04","v":10800,"v2":10700},{"d":"2016-08-06","v":10834,"v2":10741},{"d":"2016-08-08","v":10860,"v2":10770},{"d":"2016-08-10","v":10881,"v2":10787},{"d":"2016-08-12","v":10890,"v2":10800},{"d":"2016-08-14","v":10893,"v2":10811},{"d":"2016-08-16","v":10880,"v2":10800},{"d":"2016-08-19","v":10858,"v2":10787},{"d":"2016-08-22","v":10860,"v2":10780},{"d":"2016-08-24","v":10869,"v2":10764},{"d":"2016-08-26","v":10850,"v2":10750},{"d":"2016-08-29","v":10834,"v2":10729},{"d":"2016-08-31","v":10850,"v2":10760},{"d":"2016-09-02","v":10881,"v2":10811},{"d":"2016-09-05","v":10900,"v2":10830},{"d":"2016-09-07","v":10916,"v2":10858},{"d":"2016-09-10","v":10811,"v2":10554},{"d":"2016-09-14","v":10624,"v2":10507},{"d":"2016-09-18","v":10624,"v2":10554},{"d":"2016-09-21","v":10717,"v2":10577},{"d":"2016-09-23","v":10823,"v2":10717}
]
},
"hconcat":[
{"spacing":2,"bounds":"flush","vconcat":[
 {"width":622,"height":20,"view":{"fill":"#f7941d","stroke":null},"layer":[
  {"data":{"values":[{"t":"Chart1 - NASDAQ NMS COMPOSITE INDEX"}]},"mark":{"type":"text","align":"left","dx":-295,"font":"Roboto","fontSize":12,"color":"#2a1a05"},"encoding":{"text":{"field":"t"}}},
  {"data":{"values":[{"t":"5,305.75 (-33.7759)"}]},"mark":{"type":"text","align":"left","dx":29,"font":"Roboto","fontSize":12,"color":"#2a1a05"},"encoding":{"text":{"field":"t"}}},
  {"data":{"values":[{"t":"Daily"}]},"mark":{"type":"text","align":"right","dx":245,"font":"Roboto","fontSize":12,"color":"#2a1a05"},"encoding":{"text":{"field":"t"}}},
  {"data":{"values":[{"t":"▁ ▢ ✕"}]},"mark":{"type":"text","align":"right","dx":301,"font":"DejaVu Sans","fontSize":11,"color":"#2b4a7a"},"encoding":{"text":{"field":"t"}}}
 ]},
 {"width":622,"height":20,"view":{"fill":"#e3e3e3","stroke":null},"layer":[
  {"data":{"values":[{"t":"BM NASDAQ Advance/Decline Line"}]},"mark":{"type":"text","align":"left","dx":-283,"font":"Roboto","fontSize":12,"color":"#3a3a3a"},"encoding":{"text":{"field":"t"}}},
  {"data":{"values":[{"t":"(14,212.00)"}]},"mark":{"type":"text","align":"left","dx":-92,"font":"Roboto","fontSize":12,"color":"#d42020"},"encoding":{"text":{"field":"t"}}},
  {"data":{"values":[{"t":"▢ ✕"}]},"mark":{"type":"text","align":"right","dx":301,"font":"DejaVu Sans","fontSize":11,"color":"#555555"},"encoding":{"text":{"field":"t"}}}
 ]},
 {"width":622,"height":354,"view":{"fill":"#ffffff","stroke":null},
  "encoding":{"x":{"field":"d","type":"temporal","scale":{"domain":[{"year":2015,"month":9,"date":25,"hours":12},{"year":2016,"month":10,"date":8,"hours":12}],"range":[2,570]},"axis":null},
   "y":{"field":"v","type":"quantitative","scale":{"domain":[-1268,1766],"nice":false,"zero":false},"axis":null}},
  "layer":[
   {"data":{"name":"ndxAD"},"mark":{"type":"line","color":"#cc0000","strokeWidth":1},
    "encoding":{"y":{"field":"v","type":"quantitative","scale":{"domain":[-1268,1766],"nice":false,"zero":false},"axis":{"orient":"right","offset":-52,"values":[-1000,-500,0,500,1000,1500],"labelExpr":"datum.value == 0 ? '' : format(datum.value, 'd')","tickSize":8,"labelPadding":39,"labelAlign":"right","labelFontSize":11,"title":null}}}},
   {"data":{"values":[{"d":"2015-10-26","d2":"2016-08-30","v":891}],"format":{"parse":{"d":"date","d2":"date"}}},"mark":{"type":"rule","color":"#20206a","strokeWidth":1.2},
    "encoding":{"x2":{"field":"d2"},"y":{"field":"v","type":"quantitative","scale":{"domain":[-1268,1766],"nice":false,"zero":false},"axis":{"orient":"right","offset":-52,"tickCount":30,"labels":false,"domain":false,"tickSize":4,"title":null}}}},
   {"data":{"values":[{"d":"2016-09-23","v":1243}]},"mark":{"type":"point","shape":"circle","size":10000,"filled":false,"color":"#2de02d","strokeWidth":6,"opacity":1}},
   {"data":{"values":[
     {"g":"s","o":1,"d":"2016-05-30T17:00","v":1414},{"g":"s","o":2,"d":"2016-06-09T02:00","v":1343},{"g":"s","o":3,"d":"2016-06-14T12:00","v":1271},{"g":"s","o":4,"d":"2016-06-18T14:00","v":1172},{"g":"s","o":5,"d":"2016-06-22T14:00","v":1095},{"g":"s","o":6,"d":"2016-06-28T00:00","v":1043},{"g":"s","o":7,"d":"2016-07-01T07:00","v":1020},
     {"g":"a","o":1,"d":"2016-07-02T22:00","v":1228},{"g":"a","o":2,"d":"2016-07-01T07:00","v":1020},
     {"g":"b","o":1,"d":"2016-06-14T12:00","v":1106},{"g":"b","o":2,"d":"2016-07-01T07:00","v":1020}]},
    "mark":{"type":"line","color":"#2de02d","strokeWidth":7,"strokeCap":"round","strokeJoin":"round"},
    "encoding":{"detail":{"field":"g"},"order":{"field":"o"}}}
  ],
  "resolve":{"axis":{"y":"independent"}}},
 {"width":622,"height":22,"view":{"fill":"#e3e3e3","stroke":null},"layer":[
  {"data":{"values":[{"t":"NASDAQ NMS COMPOSITE INDEX (5,327.43, 5,329.71, 5,301.63, 5,305.75, -33.7759)"}]},"mark":{"type":"text","align":"left","dx":-283,"font":"Roboto","fontSize":12,"color":"#3a3a3a"},"encoding":{"text":{"field":"t"}}},
  {"data":{"values":[{"t":"▢ ✕"}]},"mark":{"type":"text","align":"right","dx":301,"font":"DejaVu Sans","fontSize":11,"color":"#555555"},"encoding":{"text":{"field":"t"}}}
 ]},
 {"width":622,"height":412,"view":{"fill":"#ffffff","stroke":null},
  "encoding":{"x":{"field":"d","type":"temporal","scale":{"domain":[{"year":2015,"month":9,"date":25,"hours":12},{"year":2016,"month":10,"date":8,"hours":12}],"range":[2,570]},"axis":null},
   "y":{"field":"v","type":"quantitative","scale":{"domain":[4111,5462],"range":[388,0],"nice":false,"zero":false},"axis":null}},
  "layer":[
   {"data":{"name":"ndxBars"},"mark":{"type":"rule","color":"#000000","strokeWidth":1.3},
    "encoding":{
     "x":{"field":"d","type":"temporal","scale":{"domain":[{"year":2015,"month":9,"date":25,"hours":12},{"year":2016,"month":10,"date":8,"hours":12}],"range":[2,570]},"axis":{"orient":"bottom","offset":-24,"tickCount":{"interval":"month"},"labelExpr":"month(datum.value) == 0 ? timeFormat(datum.value, '%Y') : (year(datum.value) == 2016 && month(datum.value) == 9 ? 'O' : timeFormat(datum.value, '%b'))","tickSize":18,"labelPadding":-14,"labelAlign":"left","labelBaseline":"top","labelOffset":3,"labelFontSize":11.5,"labelOverlap":false,"labelFlush":false,"labelBound":false,"title":null}},
     "y":{"field":"v","type":"quantitative","scale":{"domain":[4111,5462],"range":[388,0],"nice":false,"zero":false},"axis":{"orient":"right","offset":-52,"values":[4150,4200,4250,4300,4350,4400,4450,4500,4550,4600,4650,4700,4750,4800,4850,4900,4950,5000,5050,5100,5150,5200,5250,5300,5350,5400],"labelExpr":"datum.value == 5300 ? '' : format(datum.value, 'd')","tickSize":8,"labelPadding":39,"labelAlign":"right","labelFontSize":11,"labelOverlap":false,"title":null}},
     "y2":{"field":"v2"}}},
   {"data":{"values":[{"d":"2015-10-20","d2":"2016-08-10","v":5178}],"format":{"parse":{"d":"date","d2":"date"}}},"mark":{"type":"rule","color":"#20206a","strokeWidth":1.2},
    "encoding":{
     "x":{"field":"d","type":"temporal","scale":{"domain":[{"year":2015,"month":9,"date":25,"hours":12},{"year":2016,"month":10,"date":8,"hours":12}],"range":[2,570]},"axis":{"orient":"bottom","offset":-24,"tickCount":{"interval":"week"},"labels":false,"domain":false,"tickSize":4,"title":null}},
     "x2":{"field":"d2"},
     "y":{"field":"v","type":"quantitative","scale":{"domain":[4111,5462],"range":[388,0],"nice":false,"zero":false},"axis":{"orient":"right","offset":-52,"tickCount":135,"labels":false,"domain":false,"tickSize":4,"title":null}}}},
   {"data":{"values":[{"v":5305.75,"t":"5305.75"}]},"mark":{"type":"point","shape":"M -1 -0.35 L 1 -0.35 L 1 0.35 L -1 0.35 Z","size":1600,"filled":true,"color":"#000000","opacity":1,"xOffset":-27},
    "encoding":{"x":{"value":"width"}}},
   {"data":{"values":[{"v":5305.75,"t":"5305.75"}]},"mark":{"type":"text","color":"#c81e1e","font":"Liberation Sans","fontSize":11,"xOffset":-27},
    "encoding":{"x":{"value":"width"},"text":{"field":"t"}}}
  ],
  "resolve":{"axis":{"x":"independent","y":"independent"}}}
]},
{"spacing":2,"bounds":"flush","vconcat":[
 {"width":622,"height":20,"view":{"fill":"#333333","stroke":null},"layer":[
  {"data":{"values":[{"t":"Chart2 - NYSE COMPOSITE"}]},"mark":{"type":"text","align":"left","dx":-289,"font":"Roboto","fontSize":12,"color":"#eeeeee"},"encoding":{"text":{"field":"t"}}},
  {"data":{"values":[{"t":"10,717.99 (-75.6699)"}]},"mark":{"type":"text","align":"left","dx":-30,"font":"Roboto","fontSize":12,"color":"#eeeeee"},"encoding":{"text":{"field":"t"}}},
  {"data":{"values":[{"t":"Daily"}]},"mark":{"type":"text","align":"right","dx":251,"font":"Roboto","fontSize":12,"color":"#eeeeee"},"encoding":{"text":{"field":"t"}}},
  {"data":{"values":[{"t":"▁ ▢ ✕"}]},"mark":{"type":"text","align":"right","dx":303,"font":"DejaVu Sans","fontSize":11,"color":"#c8d4e6"},"encoding":{"text":{"field":"t"}}}
 ]},
 {"width":622,"height":20,"view":{"fill":"#e3e3e3","stroke":null},"layer":[
  {"data":{"values":[{"t":"BM NYSE Advance/Decline Line"}]},"mark":{"type":"text","align":"left","dx":-289,"font":"Roboto","fontSize":12,"color":"#3a3a3a"},"encoding":{"text":{"field":"t"}}},
  {"data":{"values":[{"t":"(452,774.0)"}]},"mark":{"type":"text","align":"left","dx":-108,"font":"Roboto","fontSize":12,"color":"#d42020"},"encoding":{"text":{"field":"t"}}},
  {"data":{"values":[{"t":"▢ ✕"}]},"mark":{"type":"text","align":"right","dx":303,"font":"DejaVu Sans","fontSize":11,"color":"#555555"},"encoding":{"text":{"field":"t"}}}
 ]},
 {"width":622,"height":350,"view":{"fill":"#ffffff","stroke":null},
  "encoding":{"x":{"field":"d","type":"temporal","scale":{"domain":[{"year":2014,"month":11,"date":19,"hours":10},{"year":2016,"month":10,"date":10,"hours":2}],"range":[0,566]},"axis":null},
   "y":{"field":"v","type":"quantitative","scale":{"domain":[39516,45960],"nice":false,"zero":false},"axis":null}},
  "layer":[
   {"data":{"name":"nyaAD"},"mark":{"type":"line","color":"#cc0000","strokeWidth":1},
    "encoding":{"y":{"field":"v","type":"quantitative","scale":{"domain":[39516,45960],"nice":false,"zero":false},"axis":{"orient":"right","offset":-56,"values":[40000,40500,41000,41500,42000,42500,43000,43500,44000,44500,45000,45500],"format":"d","tickSize":8,"labelPadding":38,"labelAlign":"right","labelFontSize":12,"title":null}}}},
   {"data":{"values":[{"d":"2015-03-27","d2":"2016-07-17","v":42383}],"format":{"parse":{"d":"date","d2":"date"}}},"mark":{"type":"rule","color":"#20206a","strokeWidth":1.2},
    "encoding":{"x2":{"field":"d2"},"y":{"field":"v","type":"quantitative","scale":{"domain":[39516,45960],"nice":false,"zero":false},"axis":{"orient":"right","offset":-56,"tickCount":64,"labels":false,"domain":false,"tickSize":4,"title":null}}}},
   {"data":{"values":[{"d":"2016-09-11","v":44892}]},"mark":{"type":"point","shape":"M -0.84 0 A 0.84 1 0 1 0 0.84 0 A 0.84 1 0 1 0 -0.84 0 Z","size":9801,"filled":false,"color":"#2de02d","strokeWidth":6,"opacity":1}},
   {"data":{"values":[
     {"g":"s","o":1,"d":"2016-02-06T07:00","v":43856},{"g":"s","o":2,"d":"2016-02-18T17:00","v":43622},{"g":"s","o":3,"d":"2016-02-28T12:00","v":43364},{"g":"s","o":4,"d":"2016-03-08T10:00","v":43119},{"g":"s","o":5,"d":"2016-03-16T17:00","v":42904},{"g":"s","o":6,"d":"2016-03-24T05:00","v":42720},{"g":"s","o":7,"d":"2016-03-28T02:00","v":42628},
     {"g":"a","o":1,"d":"2016-03-30T00:00","v":43027},{"g":"a","o":2,"d":"2016-03-28T02:00","v":42628},
     {"g":"b","o":1,"d":"2016-03-03T10:00","v":42872},{"g":"b","o":2,"d":"2016-03-28T02:00","v":42628}]},
    "mark":{"type":"line","color":"#2de02d","strokeWidth":7,"strokeCap":"round","strokeJoin":"round"},
    "encoding":{"detail":{"field":"g"},"order":{"field":"o"}}}
  ],
  "resolve":{"axis":{"y":"independent"}}},
 {"width":622,"height":22,"view":{"fill":"#e3e3e3","stroke":null},"layer":[
  {"data":{"values":[{"t":"NYSE COMPOSITE (10,793.66, 10,793.66, 10,712.88, 10,717.99, -75.6699)"}]},"mark":{"type":"text","align":"left","dx":-288,"font":"Roboto","fontSize":12,"color":"#3a3a3a"},"encoding":{"text":{"field":"t"}}},
  {"data":{"values":[{"t":"▢ ✕"}]},"mark":{"type":"text","align":"right","dx":303,"font":"DejaVu Sans","fontSize":11,"color":"#555555"},"encoding":{"text":{"field":"t"}}}
 ]},
 {"width":622,"height":415,"view":{"fill":"#ffffff","stroke":null},
  "encoding":{"x":{"field":"d","type":"temporal","scale":{"domain":[{"year":2014,"month":11,"date":19,"hours":10},{"year":2016,"month":10,"date":10,"hours":2}],"range":[0,566]},"axis":null},
   "y":{"field":"v","type":"quantitative","scale":{"domain":[8718,11503],"range":[397,0],"nice":false,"zero":false},"axis":null}},
  "layer":[
   {"data":{"name":"nyaBars"},"mark":{"type":"rule","color":"#000000","strokeWidth":2.6},
    "encoding":{
     "x":{"field":"d","type":"temporal","scale":{"domain":[{"year":2014,"month":11,"date":19,"hours":10},{"year":2016,"month":10,"date":10,"hours":2}],"range":[0,566]},"axis":{"orient":"bottom","offset":-18,"tickCount":{"interval":"month"},"labelExpr":"month(datum.value) == 0 ? timeFormat(datum.value, '%Y') : (month(datum.value) == 1 ? '' : substring(timeFormat(datum.value, '%b'), 0, 1))","tickSize":17,"labelPadding":-15,"labelAlign":"left","labelBaseline":"top","labelOffset":3,"labelFontSize":12,"labelOverlap":false,"labelFlush":false,"labelBound":false,"title":null}},
     "y":{"field":"v","type":"quantitative","scale":{"domain":[8718,11503],"range":[397,0],"nice":false,"zero":false},"axis":{"orient":"right","offset":-56,"values":[8800,8900,9000,9100,9200,9300,9400,9500,9600,9700,9800,9900,10000,10100,10200,10300,10400,10500,10600,10700,10800,10900,11000,11100,11200,11300,11400],"labelExpr":"datum.value == 10700 ? '' : format(datum.value, 'd')","tickSize":8,"labelPadding":38,"labelAlign":"right","labelFontSize":12,"labelOverlap":false,"title":null}},
     "y2":{"field":"v2"}}},
   {"data":{"values":[{"d":"2015-04-02","d2":"2016-09-22","v":11262}],"format":{"parse":{"d":"date","d2":"date"}}},"mark":{"type":"rule","color":"#20206a","strokeWidth":1.2},
    "encoding":{
     "x2":{"field":"d2"},
     "y":{"field":"v","type":"quantitative","scale":{"domain":[8718,11503],"range":[397,0],"nice":false,"zero":false},"axis":{"orient":"right","offset":-56,"tickCount":56,"labels":false,"domain":false,"tickSize":4,"title":null}}}},
   {"data":{"values":[{"v":10717.99,"t":"10717.99"}]},"mark":{"type":"point","shape":"M -1 -0.33 L 1 -0.33 L 1 0.33 L -1 0.33 Z","size":2116,"filled":true,"color":"#000000","opacity":1,"xOffset":-29},
    "encoding":{"x":{"value":"width"}}},
   {"data":{"values":[{"v":10717.99,"t":"10717.99"}]},"mark":{"type":"text","color":"#c81e1e","font":"Liberation Sans","fontSize":11,"xOffset":-29},
    "encoding":{"x":{"value":"width"},"text":{"field":"t"}}}
  ],
  "resolve":{"axis":{"x":"independent","y":"independent"}}}
]}
]
}
